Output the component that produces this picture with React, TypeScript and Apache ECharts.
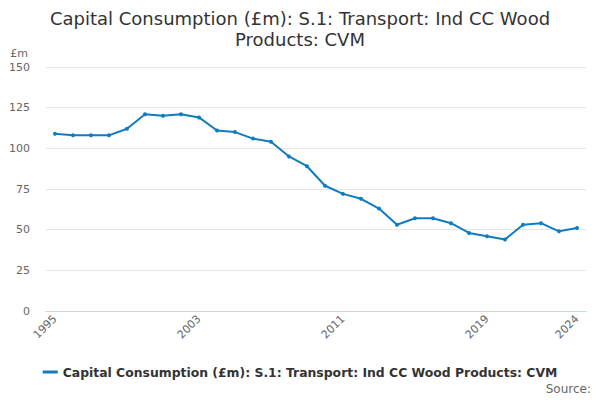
import * as echarts from 'echarts';
import React, { useEffect, useRef } from 'react';

const years = [
  '1995', '1996', '1997', '1998', '1999', '2000', '2001', '2002', '2003', '2004',
  '2005', '2006', '2007', '2008', '2009', '2010', '2011', '2012', '2013', '2014',
  '2015', '2016', '2017', '2018', '2019', '2020', '2021', '2022', '2023', '2024',
];
const values = [
  109, 108, 108, 108, 112, 121, 120, 121, 119, 111,
  110, 106, 104, 95, 89, 77, 72, 69, 63, 53,
  57, 57, 54, 48, 46, 44, 53, 54, 49, 51,
];
const labelYears = ['1995', '2003', '2011', '2019', '2024'];
const seriesName = 'Capital Consumption (£m): S.1: Transport: Ind CC Wood Products: CVM';

const font = 'DejaVu Sans, sans-serif';

const App: React.FC = () => {
  const chartRef = useRef<HTMLDivElement>(null);

  useEffect(() => {
    if (!chartRef.current) return;
    const chart = echarts.init(chartRef.current, undefined, { renderer: 'svg' });

    chart.setOption({
      animation: false,
      textStyle: { fontFamily: font },
      title: {
        text: 'Capital Consumption (£m): S.1: Transport: Ind CC Wood\nProducts: CVM',
        left: 'center',
        top: 3,
        textStyle: { fontSize: 18, fontWeight: 'normal', color: '#333', lineHeight: 21, fontFamily: font },
      },
      grid: { left: 46, right: 14, top: 67, bottom: 89 },
      legend: {
        bottom: 17,
        left: 'center',
        icon: 'path://M0,4 L10,4 L10,6 L0,6 Z',
        itemWidth: 15,
        itemHeight: 3,
        itemGap: 6,
        textStyle: { fontSize: 12.4, fontWeight: 'bold', color: '#333', fontFamily: font },
        data: [seriesName],
      },
      graphic: [
        {
          type: 'text',
          right: 9,
          top: 383,
          style: { text: 'Source:', fontSize: 12, fill: '#666', fontFamily: font },
        },
      ],
      xAxis: {
        type: 'category',
        data: years,
        boundaryGap: true,
        axisLine: { lineStyle: { color: '#ccd6eb' } },
        axisTick: {
          alignWithLabel: true,
          length: 8,
          lineStyle: { color: '#ccd6eb' },
          interval: (i: number) => i % 2 === 0 || i === years.length - 1,
        },
        axisLabel: {
          interval: (_i: number, v: string) => labelYears.includes(v),
          rotate: 45,
          fontSize: 11,
          color: '#666',
          margin: 6,
        },
      },
      yAxis: {
        type: 'value',
        min: 0,
        max: 150,
        interval: 25,
        name: '£m',
        nameLocation: 'end',
        nameGap: 8,
        nameTextStyle: { color: '#666', fontSize: 11, align: 'right', padding: [0, 18, 0, 0] },
        axisLabel: { fontSize: 11, color: '#666', margin: 16 },
        splitLine: { lineStyle: { color: '#e6e6e6' } },
        axisLine: { show: false },
        axisTick: { show: false },
      },
      series: [
        {
          name: seriesName,
          type: 'line',
          data: values,
          symbol: 'circle',
          symbolSize: 4,
          itemStyle: { color: '#0f7cc1' },
          lineStyle: { color: '#0f7cc1', width: 2 },
        },
      ],
    });

    return () => {
      chart.dispose();
    };
  }, []);

  return (
    <div
      ref={chartRef}
      style={{ position: 'absolute', left: 0, top: 0, width: 600, height: 400 }}
    />
  );
};

export default App;
